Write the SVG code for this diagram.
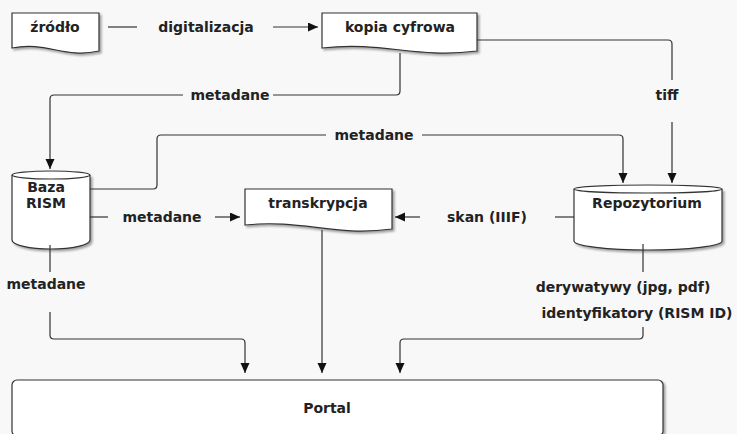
<svg xmlns="http://www.w3.org/2000/svg" width="737" height="434" viewBox="0 0 737 434">
<style>
.node{fill:#fff;stroke:#333;stroke-width:1.2;filter:url(#sh)}
.edge{fill:none;stroke:#333;stroke-width:1.2}
.arr{marker-end:url(#ah)}
text{font-family:"DejaVu Sans",sans-serif;font-weight:bold;font-size:14px;fill:#222;text-anchor:middle}
</style>
<defs>
<filter id="sh" x="-10%" y="-10%" width="130%" height="140%">
<feDropShadow dx="2" dy="2" stdDeviation="1.2" flood-color="#000" flood-opacity="0.35"/>
</filter>
<marker id="ah" markerUnits="userSpaceOnUse" markerWidth="10" markerHeight="10" refX="10" refY="4.5" orient="auto">
<path d="M0,0 L10,4.5 L0,9 Z" fill="#111"/>
</marker>
</defs>
<rect width="737" height="434" fill="#f8f8f8"/>

<g id="zrodlo">
<path class="node" d="M12,13 H99 V51 C64,59 47,41 12,48 Z"/>
<text x="55" y="32">źródło</text>
</g>
<g id="kopia">
<path class="node" d="M322,13 H477 V51 C415,59 384,41 322,48 Z"/>
<text x="400" y="32">kopia cyfrowa</text>
</g>
<g id="baza">
<path class="node" d="M12,175 V240 A39,9 0 0 0 90,240 V175"/>
<ellipse class="node" cx="51" cy="175" rx="39" ry="4" style="filter:none"/>
<text x="46" y="192">Baza</text>
<text x="46" y="208">RISM</text>
</g>
<g id="transkrypcja">
<path class="node" d="M245,189 H392 V229 C333,237 304,219 245,225 Z"/>
<text x="318" y="208">transkrypcja</text>
</g>
<g id="repozytorium">
<path class="node" d="M574,189 V241 A74,9 0 0 0 722,241 V189"/>
<ellipse class="node" cx="648" cy="189" rx="74" ry="4" style="filter:none"/>
<text x="647" y="208">Repozytorium</text>
</g>
<g id="portal">
<rect class="node" x="12" y="380" width="651" height="56" rx="5"/>
<text x="327" y="413">Portal</text>
</g>

<g id="connectors">
<path class="edge" d="M108,27 H137"/>
<text x="206" y="32">digitalizacja</text>
<path class="edge arr" d="M273,27 H318"/>

<path class="edge" d="M477,40 H668 Q672,40 672,44 V80"/>
<text x="667" y="100">tiff</text>
<path class="edge arr" d="M672,122 V183"/>

<path class="edge" d="M400,53 V91 Q400,95 396,95 H273"/>
<text x="230" y="100">metadane</text>
<path class="edge arr" d="M183,95 H54 Q50,95 50,99 V169"/>

<path class="edge" d="M90,189 H153 Q157,189 157,185 V139 Q157,135 161,135 H326"/>
<text x="374" y="140">metadane</text>
<path class="edge arr" d="M422,135 H619 Q623,135 623,139 V183"/>

<path class="edge" d="M90,217 H108"/>
<text x="162" y="222">metadane</text>
<path class="edge arr" d="M215,217 H240"/>

<path class="edge" d="M574,217 H555"/>
<text x="487" y="222">skan (IIIF)</text>
<path class="edge arr" d="M420,217 H395"/>

<path class="edge" d="M643,244 V272"/>
<text x="623" y="292">derywatywy (jpg, pdf)</text>
<text x="637" y="318">identyfikatory (RISM ID)</text>
<path class="edge arr" d="M643,327 V335 Q643,339 639,339 H404 Q400,339 400,343 V373"/>

<path class="edge arr" d="M322,230 V373"/>

<path class="edge" d="M50,245 V272"/>
<text x="46" y="289">metadane</text>
<path class="edge arr" d="M50,312 V335 Q50,339 54,339 H241 Q245,339 245,343 V373"/>
</g>
</svg>
